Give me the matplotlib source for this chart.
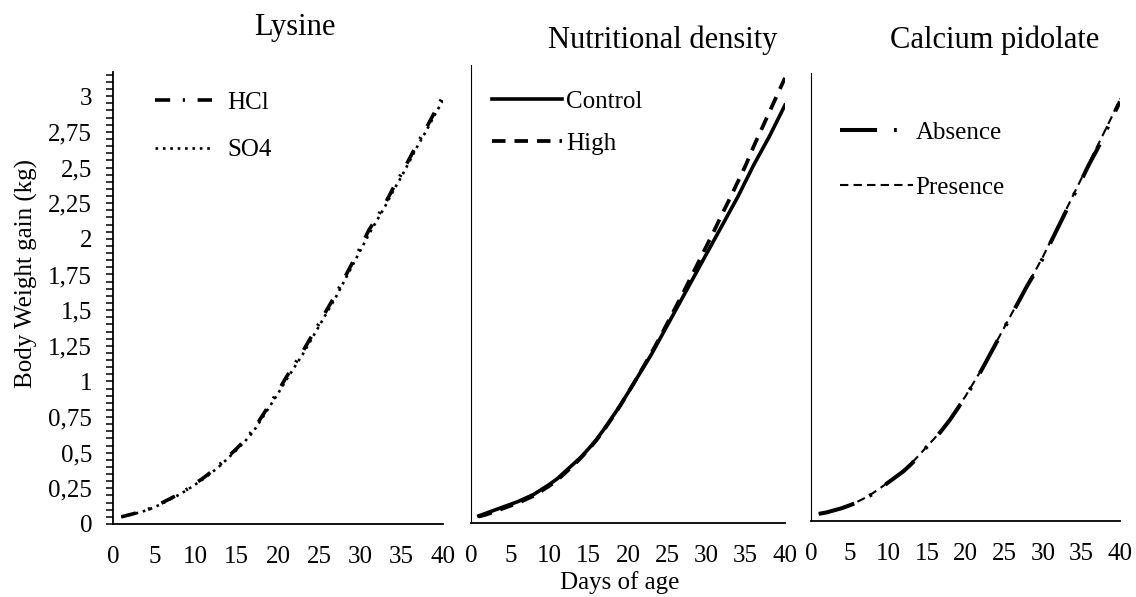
from matplotlib import pyplot
from matplotlib.ticker import MultipleLocator

pyplot.rcParams["font.family"] = ["Liberation Serif", "DejaVu Serif"]
pyplot.rcParams["font.size"] = 18

days = list(range(1, 41))

# body weight gain (kg), one value per day
lysine_hcl = [0.05, 0.065, 0.08, 0.097, 0.12, 0.15, 0.18, 0.21, 0.245, 0.285,
              0.325, 0.37, 0.42, 0.475, 0.53, 0.59, 0.66, 0.75, 0.84, 0.93,
              1.03, 1.12, 1.21, 1.31, 1.41, 1.51, 1.61, 1.72, 1.83, 1.94,
              2.06, 2.15, 2.25, 2.36, 2.46, 2.57, 2.68, 2.78, 2.89, 3.0]
lysine_so4 = [0.05, 0.063, 0.078, 0.095, 0.117, 0.145, 0.175, 0.205, 0.24, 0.278,
              0.318, 0.362, 0.41, 0.465, 0.52, 0.58, 0.648, 0.735, 0.825, 0.915,
              1.01, 1.1, 1.19, 1.29, 1.39, 1.49, 1.59, 1.7, 1.81, 1.92,
              2.03, 2.13, 2.23, 2.34, 2.44, 2.55, 2.66, 2.76, 2.87, 2.97]

density_control = [0.05, 0.07, 0.09, 0.11, 0.13, 0.15, 0.175, 0.2, 0.235, 0.27,
                   0.31, 0.36, 0.41, 0.46, 0.52, 0.585, 0.66, 0.74, 0.82, 0.91,
                   1.0, 1.09, 1.18, 1.28, 1.38, 1.48, 1.58, 1.68, 1.78, 1.88,
                   1.98, 2.08, 2.18, 2.28, 2.39, 2.5, 2.6, 2.7, 2.81, 2.92]
density_high = [0.045, 0.06, 0.08, 0.1, 0.12, 0.14, 0.165, 0.19, 0.225, 0.26,
                0.3, 0.35, 0.4, 0.455, 0.515, 0.58, 0.655, 0.735, 0.82, 0.91,
                1.0, 1.095, 1.19, 1.29, 1.395, 1.5, 1.605, 1.715, 1.825, 1.935,
                2.045, 2.16, 2.27, 2.385, 2.5, 2.63, 2.75, 2.87, 2.99, 3.11]

pidolate_absence = [0.05, 0.06, 0.075, 0.09, 0.11, 0.13, 0.16, 0.19, 0.23, 0.27,
                    0.31, 0.35, 0.4, 0.46, 0.52, 0.575, 0.64, 0.71, 0.79, 0.87,
                    0.96, 1.05, 1.15, 1.25, 1.35, 1.45, 1.55, 1.65, 1.74, 1.84,
                    1.95, 2.06, 2.17, 2.28, 2.39, 2.5, 2.6, 2.71, 2.83, 2.94]
pidolate_presence = [0.05, 0.062, 0.077, 0.093, 0.112, 0.135, 0.162, 0.195, 0.232, 0.272,
                     0.312, 0.355, 0.405, 0.462, 0.522, 0.58, 0.645, 0.715, 0.795, 0.875,
                     0.965, 1.055, 1.155, 1.255, 1.355, 1.455, 1.555, 1.655, 1.75, 1.85,
                     1.96, 2.07, 2.18, 2.29, 2.4, 2.51, 2.62, 2.73, 2.84, 2.96]

x_ticks = [0, 5, 10, 15, 20, 25, 30, 35, 40]
y_ticks = [0, 0.25, 0.5, 0.75, 1, 1.25, 1.5, 1.75, 2, 2.25, 2.5, 2.75, 3]
y_tick_labels = ["0", "0,25", "0,5", "0,75", "1", "1,25", "1,5", "1,75",
                 "2", "2,25", "2,5", "2,75", "3"]

W, H = 1136, 597


def make_axes(fig, left, right, bottom, top, ymax):
    """Axes placed by pixel edges of the reference"""
    ax = fig.add_axes([left / W, 1 - bottom / H, (right - left) / W, (bottom - top) / H])
    ax.set_xlim(0, 40)
    ax.set_ylim(0, ymax)
    ax.spines[["top", "right"]].set_visible(False)
    ax.spines["bottom"].set_linewidth(1.3)
    ax.spines["left"].set_linewidth(0.8)
    ax.set_xticks(x_ticks)
    ax.tick_params(axis="x", length=0, pad=16)
    ax.patch.set_alpha(0)
    return ax


def style_legend(ax, x, y, handlelength, textpad, spacing, order=None):
    handles, labels = ax.get_legend_handles_labels()
    if order:
        handles = [handles[i] for i in order]
        labels = [labels[i] for i in order]
    ax.legend(handles, labels, loc="upper left", bbox_to_anchor=(x, y), frameon=False,
              borderpad=0, borderaxespad=0, handlelength=handlelength,
              handletextpad=textpad, labelspacing=spacing)


fig = pyplot.figure(figsize=(W / 100, H / 100), dpi=100)

# Lysine
ax1 = make_axes(fig, 113, 443, 524, 72, 3.17)
ax1.plot(days, lysine_so4, color="black", lw=1.9, dashes=(1, 1.8), label="SO4")
ax1.plot(days, lysine_hcl, color="black", lw=2.6, dashes=(4.2, 3.5, 0.6, 3.5), label="HCl")
ax1.spines["left"].set_linewidth(1.3)
ax1.set_yticks(y_ticks)
ax1.set_yticklabels(y_tick_labels)
ax1.yaxis.set_minor_locator(MultipleLocator(0.05))
ax1.tick_params(axis="y", which="both", direction="out", length=5, width=1.1, pad=10)
style_legend(ax1, 0.127, 0.957, 2.3, 0.6, 1.0, order=[1, 0])

# Nutritional density
ax2 = make_axes(fig, 471, 785, 523, 65, 3.2)
ax2.plot(days, density_control, color="black", lw=2.6, label="Control")
ax2.plot(days, density_high, color="black", lw=2.7, dashes=(3.6, 2.4), label="High")
ax2.set_yticks([])
style_legend(ax2, 0.068, 0.945, 2.8, 0.15, 0.8)

# Calcium pidolate
ax3 = make_axes(fig, 811, 1120, 521, 73, 3.14)
ax3.plot(days, pidolate_absence, color="black", lw=2.9, dashes=(9.2, 4.2, 0.7, 4.2), label="Absence")
ax3.plot(days, pidolate_presence, color="black", lw=1.5, dashes=(4.0, 2.5), label="Presence")
ax3.set_yticks([])
style_legend(ax3, 0.094, 0.892, 2.9, 0.12, 1.3)

fig.text(295 / W, 1 - 28 / H, "Lysine", fontsize=22, ha="center", va="center")
fig.text(663 / W, 1 - 40 / H, "Nutritional density", fontsize=22, ha="center", va="center")
fig.text(995 / W, 1 - 40 / H, "Calcium pidolate", fontsize=22, ha="center", va="center")
fig.text(26 / W, 1 - 273 / H, "Body Weight gain (kg)", rotation=90, ha="center", va="center")
fig.text(620 / W, 1 - 583 / H, "Days of age", ha="center", va="center")

fig.savefig("out.png", dpi=100)
